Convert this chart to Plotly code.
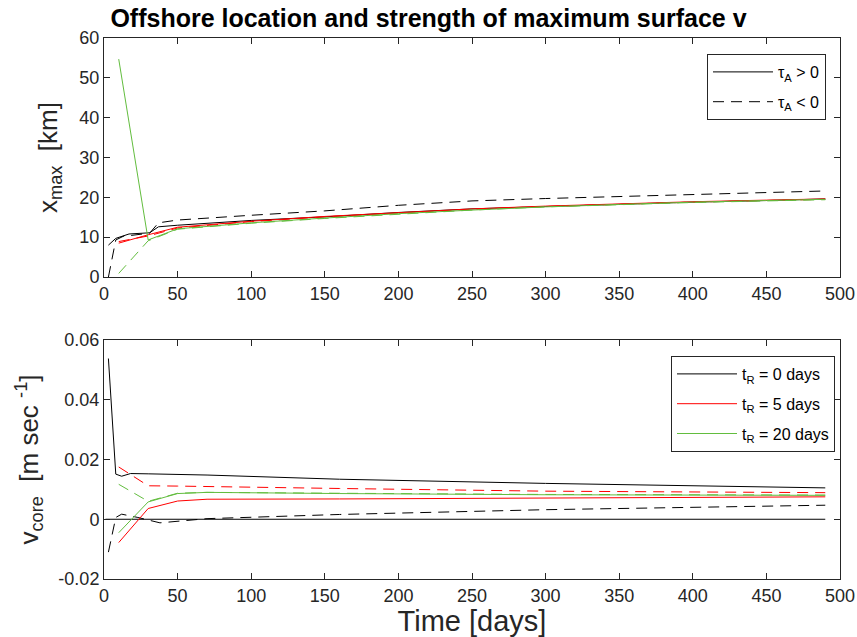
import plotly.graph_objects as go

# ---- x_max [km] : offshore location of maximum surface v ----
T_R0_POS = [3, 8, 17, 31, 37, 50, 100, 150, 200, 250, 300, 350, 400, 450, 490]
XMAX_R0_POS = [8.0, 9.7, 10.8, 11.1, 12.6, 13.0, 14.2, 15.1, 16.2, 17.1, 17.7, 18.3, 18.8, 19.2, 19.6]

T_R0_NEG = [3, 8, 13, 31, 37, 50, 100, 150, 200, 250, 300, 350, 400, 450, 490]
XMAX_R0_NEG = [0.0, 9.3, 10.2, 11.0, 13.6, 14.3, 15.5, 16.6, 18.0, 19.1, 19.7, 20.2, 20.6, 21.2, 21.6]

T_R = [10, 30, 50, 100, 150, 200, 250, 300, 350, 400, 450, 490]
XMAX_R5_POS = [8.5, 10.6, 12.5, 14.0, 15.2, 16.2, 17.1, 17.8, 18.4, 18.9, 19.3, 19.6]
XMAX_R5_NEG = [8.9, 10.3, 12.3, 13.9, 15.1, 16.1, 17.0, 17.7, 18.3, 18.8, 19.2, 19.5]
XMAX_R20_POS = [54.7, 9.3, 12.1, 13.6, 14.8, 15.9, 16.8, 17.6, 18.2, 18.8, 19.2, 19.5]
XMAX_R20_NEG = [0.9, 9.1, 12.0, 13.5, 14.7, 15.8, 16.8, 17.6, 18.2, 18.7, 19.1, 19.4]

# ---- v_core [m/s] : strength of maximum surface v ----
TV_R0_POS = [3, 8, 12, 18, 30, 70, 160, 300, 490]
VCORE_R0_POS = [0.0538, 0.0151, 0.0144, 0.0153, 0.0152, 0.0148, 0.0134, 0.0120, 0.0105]
TV_R0_NEG = [3, 8, 12, 23, 38, 70, 160, 300, 490]
VCORE_R0_NEG = [-0.0110, 0.0006, 0.0017, 0.0006, -0.0012, 0.0002, 0.0016, 0.0032, 0.0047]
TV_ZERO = [1, 490]
VCORE_ZERO = [0.0, 0.0]

TV_R = [10, 30, 50, 70, 160, 300, 490]
VCORE_R5_POS = [-0.0078, 0.0036, 0.0061, 0.0067, 0.0068, 0.0070, 0.0075]
VCORE_R5_NEG = [0.0175, 0.0112, 0.0111, 0.0110, 0.0103, 0.0094, 0.0089]
VCORE_R20_POS = [-0.0045, 0.0058, 0.0086, 0.0090, 0.0086, 0.0082, 0.0080]
VCORE_R20_NEG = [0.0117, 0.0060, 0.0087, 0.0090, 0.0087, 0.0083, 0.0081]

X_TICKS = list(range(0, 501, 50))
XMAX_TICKS = list(range(0, 61, 10))
VCORE_TICKS = [-0.02, 0, 0.02, 0.04, 0.06]
VCORE_TICKTEXT = ["-0.02", "0", "0.02", "0.04", "0.06"]

BLACK = "#000000"
RED = "#ff0000"
GREEN = "#62bd3e"
DASH = "11px,7px"
FONT = "Liberation Sans, Arial, sans-serif"
AXCOL = "#262626"

fig = go.Figure()
_count = [0]


def add(x, y, color, dash, xa, ya, name=None, legend=None):
    _count[0] += 1
    fig.add_trace(go.Scatter(
        x=x, y=y, mode="lines", xaxis=xa, yaxis=ya,
        line=dict(color=color, width=1, dash=dash),
        name=name or "", showlegend=name is not None,
        legend=legend or "legend", legendgroup="g%d" % _count[0],
        hoverinfo="skip",
    ))


# top panel
add(T_R0_POS, XMAX_R0_POS, BLACK, "solid", "x", "y", "τ<sub>A</sub> &gt; 0", "legend")
add(T_R0_NEG, XMAX_R0_NEG, BLACK, DASH, "x", "y", "τ<sub>A</sub> &lt; 0", "legend")
add(T_R, XMAX_R5_POS, RED, "solid", "x", "y")
add(T_R, XMAX_R5_NEG, RED, DASH, "x", "y")
add(T_R, XMAX_R20_POS, GREEN, "solid", "x", "y")
add(T_R, XMAX_R20_NEG, GREEN, DASH, "x", "y")

# bottom panel
add(TV_R0_POS, VCORE_R0_POS, BLACK, "solid", "x2", "y2", "t<sub>R</sub> = 0 days", "legend2")
add(TV_R0_NEG, VCORE_R0_NEG, BLACK, DASH, "x2", "y2")
add(TV_ZERO, VCORE_ZERO, BLACK, "solid", "x2", "y2")
add(TV_R, VCORE_R5_POS, RED, "solid", "x2", "y2", "t<sub>R</sub> = 5 days", "legend2")
add(TV_R, VCORE_R5_NEG, RED, DASH, "x2", "y2")
add(TV_R, VCORE_R20_POS, GREEN, "solid", "x2", "y2", "t<sub>R</sub> = 20 days", "legend2")
add(TV_R, VCORE_R20_NEG, GREEN, DASH, "x2", "y2")

common_axis = dict(
    showline=True, linecolor=AXCOL, linewidth=1, mirror="ticks",
    ticks="inside", ticklen=6, tickcolor=AXCOL, tickwidth=1,
    showgrid=False, zeroline=False, automargin=False,
    tickfont=dict(family=FONT, size=18, color=AXCOL),
)

top_dom = [(579 - 277) / 541, 1.0]
bot_dom = [0.0, (579 - 340) / 541]

fig.update_layout(
    width=857, height=637, autosize=False,
    margin=dict(l=104, r=17, t=38, b=58, autoexpand=False),
    paper_bgcolor="white", plot_bgcolor="white",
    font=dict(family=FONT, color=AXCOL),
    title=dict(
        text="<b>Offshore location and strength of maximum surface v</b>",
        x=0.5, xref="container", xanchor="center",
        y=1 - 18 / 637, yref="container", yanchor="middle",
        font=dict(family=FONT, size=25, color="#000000"),
    ),
    xaxis=dict(common_axis, domain=[0, 1], anchor="y", range=[0, 500], tickvals=X_TICKS),
    yaxis=dict(common_axis, domain=top_dom, anchor="x", range=[0, 60], tickvals=XMAX_TICKS,
               title=dict(text="x<sub>max</sub>  [km]", standoff=14,
                          font=dict(family=FONT, size=26, color=AXCOL))),
    xaxis2=dict(common_axis, domain=[0, 1], anchor="y2", range=[0, 500], tickvals=X_TICKS,
                title=dict(text="Time [days]", standoff=8,
                           font=dict(family=FONT, size=29, color=AXCOL))),
    yaxis2=dict(common_axis, domain=bot_dom, anchor="x2", range=[-0.02, 0.06],
                tickvals=VCORE_TICKS, ticktext=VCORE_TICKTEXT,
                title=dict(text="v<sub>core</sub>  [m sec <sup>-1</sup>]", standoff=12,
                           font=dict(family=FONT, size=26, color=AXCOL))),
    legend=dict(
        x=(826 - 104) / 736, y=(579 - 54) / 541, xanchor="right", yanchor="top",
        bgcolor="white", bordercolor=AXCOL, borderwidth=1,
        font=dict(family=FONT, size=16, color="#000000"), itemwidth=60,
        tracegroupgap=6,
    ),
    legend2=dict(
        x=(835 - 104) / 736, y=(579 - 356) / 541, xanchor="right", yanchor="top",
        bgcolor="white", bordercolor=AXCOL, borderwidth=1,
        font=dict(family=FONT, size=16, color="#000000"), itemwidth=60,
        tracegroupgap=6,
    ),
)

fig.write_html("out.html")
